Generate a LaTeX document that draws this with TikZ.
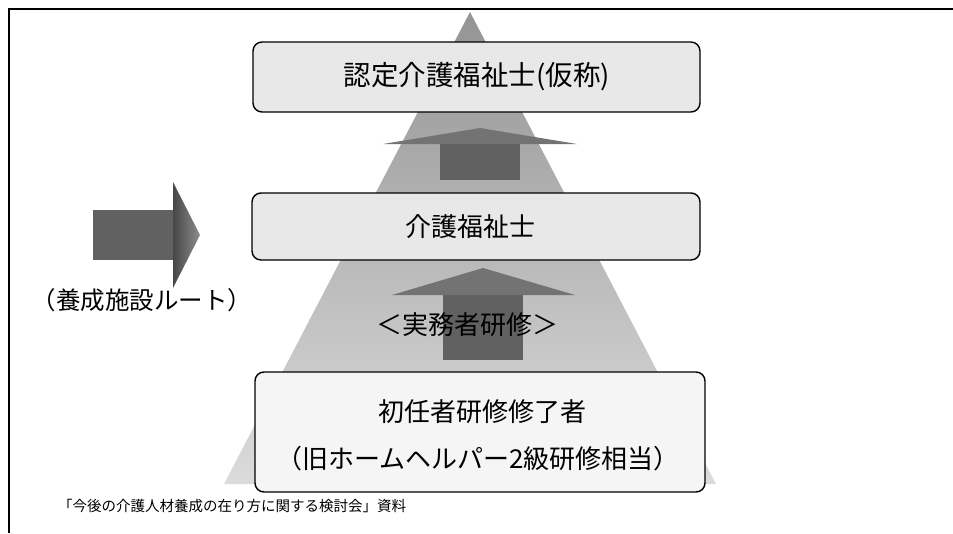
\documentclass[tikz,border=0pt]{standalone}
\usepackage{fontspec}
\newfontfamily\jp{Noto Sans CJK JP}
\begin{document}
\begin{tikzpicture}[x=1pt,y=-1pt,
  every node/.style={font=\jp, inner sep=0pt},
  box/.style={draw=black, line width=1.4pt, rounded corners=9pt, fill=black!9},
  bigtxt/.style={font=\jp\fontsize{26}{30}\selectfont},
  arrowshaft/.style={fill=black!62},
  arrowhead/.style={fill=black!55}]
\useasboundingbox (0,0) rectangle (953,533);
% frame
\draw[line width=1.3pt] (9,533) -- (9,9) -- (953,9);
% pyramid
\shade[top color=black!42, bottom color=black!14] (470,12) -- (224,484) -- (716,484) -- cycle;
% boxes
\node[box, minimum width=447pt, minimum height=70pt] (top) at (476.5,77) {};
\node[box, minimum width=448pt, minimum height=67pt] (mid) at (476,226.5) {};
\node[box, fill=black!4, minimum width=450pt, minimum height=120pt] (bot) at (480,432) {};
% up arrow top
\fill[arrowhead] (383,144) -- (480,128) -- (577,144) -- cycle;
\fill[arrowshaft] (440,144) rectangle (520,180);
% up arrow lower
\fill[arrowhead] (392,295) -- (483,268) -- (575,295) -- cycle;
\fill[arrowshaft] (443,295) rectangle (523,360);
% left arrow
\shade[left color=black!72, right color=black!45] (173,182) -- (200,235) -- (173,288) -- cycle;
\fill[arrowshaft] (93,210) rectangle (173,260);
% texts
\node[font=\jp\fontsize{27.5}{31}\selectfont] (ttop) at (477,77) {認定介護福祉士(仮称)};
\node[bigtxt] (tmid) at (470,227) {介護福祉士};
\node[bigtxt] (tjitsu) at (467,325) {＜実務者研修＞};
\node[bigtxt] (tbot1) at (482,412) {初任者研修修了者};
\node[bigtxt] (tbot2) at (478,459) {（旧ホームヘルパー2級研修相当）};
\node[font=\jp\fontsize{24.5}{28}\selectfont] (tyosei) at (142,300) {（養成施設ルート）};
\node[font=\jp\fontsize{14.5}{18}\selectfont, anchor=west] (cap) at (58,506) {「今後の介護人材養成の在り方に関する検討会」資料};
\end{tikzpicture}
\end{document}
